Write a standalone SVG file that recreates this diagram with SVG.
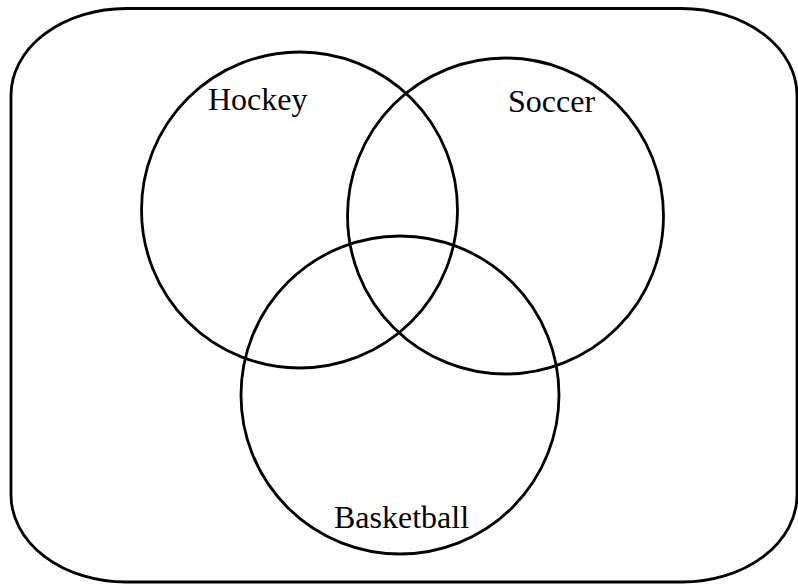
<svg xmlns="http://www.w3.org/2000/svg" width="798" height="585" viewBox="0 0 798 585">
<style>
.s{fill:none;stroke:#000;stroke-width:2.8}
.t{font-family:"Liberation Serif","Times New Roman",serif;font-size:32px;fill:#000}
</style>
<rect width="798" height="585" fill="#fff"/>
<g id="universe"><rect class="s" x="11" y="8.5" width="786" height="573.5" rx="115" ry="87"/></g>
<g id="hockey"><circle class="s" cx="299.5" cy="210" r="158"/><text class="t" x="208" y="110">Hockey</text></g>
<g id="soccer"><circle class="s" cx="505.5" cy="216" r="158"/><text class="t" x="508" y="112">Soccer</text></g>
<g id="basketball"><circle class="s" cx="400" cy="395" r="159"/><text class="t" x="334" y="528">Basketball</text></g>
<g id="connectors"/>
</svg>
